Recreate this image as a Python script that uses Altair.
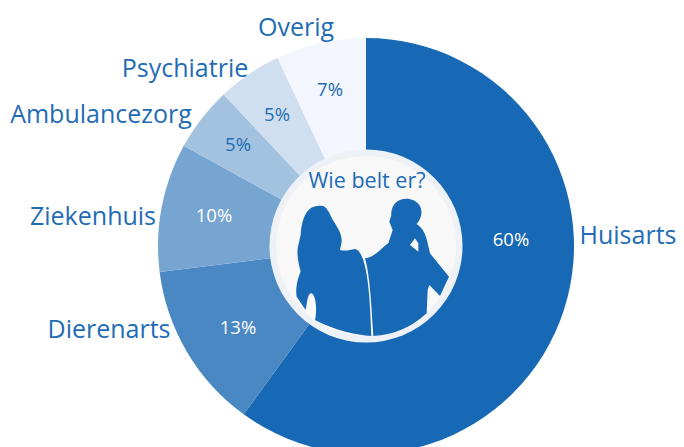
import altair as alt
import pandas as pd

categories = ["Huisarts", "Dierenarts", "Ziekenhuis", "Ambulancezorg", "Psychiatrie", "Overig"]
values = [60, 13, 10, 5, 5, 7]
percent_labels = ["60%", "13%", "10%", "5%", "5%", "7%"]

colors = ["#1869b5", "#4a88c4", "#76a5d1", "#a3c2df", "#d0dfef", "#f3f6fc"]
text_colors = ["#ffffff", "#ffffff", "#ffffff", "#1f6cb5", "#1f6cb5", "#1f6cb5"]
BLUE = "#1f6cb5"
FONT = "Open Sans"

# page position of the donut centre, minus the 8px page margin
CX, CY = 358, 238
OUTER, INNER = 208, 96

# label placement (layout, not data)
name_pos = {
    "Huisarts": (620, 228),
    "Dierenarts": (101, 322),
    "Ziekenhuis": (85, 209),
    "Ambulancezorg": (93, 107),
    "Psychiatrie": (177, 61),
    "Overig": (288, 20),
}
pct_pos = {
    "Huisarts": (503, 232),
    "Dierenarts": (230, 320),
    "Ziekenhuis": (206, 208),
    "Ambulancezorg": (230, 137),
    "Psychiatrie": (269, 107),
    "Overig": (322, 82),
}

rows = []
start = 0
for c, v, p, col, tc in zip(categories, values, percent_labels, colors, text_colors):
    rows.append({"cat": c, "value": v, "pct": p, "start": start, "end": start + v,
                 "col": col, "tc": tc})
    start += v
df = pd.DataFrame(rows)

theta_scale = alt.Scale(domain=[0, 100], range=[0, 6.283185307])
base = alt.Chart(df)

arcs = base.mark_arc(radius=OUTER, radius2=INNER - 2, clip=True).encode(
    x=alt.value(CX), y=alt.value(CY),
    theta=alt.Theta("start:Q", scale=theta_scale, stack=None),
    theta2="end:Q",
    fill=alt.Fill("col:N", scale=None),
    order=alt.Order("start:Q"),
)

disc = alt.Chart(pd.DataFrame({"r": [1]}))
ring = disc.mark_arc(radius=96.5, radius2=0, theta=0, theta2=6.2832, fill="#eef1f5").encode(
    x=alt.value(CX), y=alt.value(CY))
face = disc.mark_arc(radius=90, radius2=0, theta=0, theta2=6.2832, fill="#f8f8f9").encode(
    x=alt.value(CX), y=alt.value(CY))

woman = ("M122,255 C124,225 130,195 148,178 C158,168 175,165 190,168 C205,175 212,200 222,215 "
         "C232,232 246,250 245,275 L240,300 C255,304 270,300 285,297 C300,300 308,322 314,345 "
         "C324,385 330,440 334,558 C290,556 220,540 165,510 C170,490 170,450 160,435 C152,422 145,435 142,450 "
         "L137,480 L110,440 C106,420 112,385 122,365 C116,340 108,310 115,285 Z")
man = ("M340,558 C400,555 450,535 500,490 L503,420 L508,405 L540,438 L567,380 L510,310 L503,280 "
       "C498,255 490,235 470,222 C484,205 490,185 478,165 C465,147 440,142 420,150 C400,158 393,178 394,195 "
       "L388,215 L398,240 L385,280 C365,292 348,320 315,325 C328,370 333,440 340,558 Z "
       "M465,265 L475,280 L475,305 L450,285 Z")
silhouettes = disc.mark_point(
    shape=woman + " " + man, size=4 / 9, filled=True, fill="#1869b5", opacity=1, strokeWidth=0
).encode(x=alt.value(252), y=alt.value(142))

layers = [arcs, ring, face, silhouettes]
for name, tc in zip(categories, text_colors):
    px, py = pct_pos[name]
    layers.append(
        base.transform_filter(alt.datum.cat == name).mark_text(
            font=FONT, fontSize=18.5, color=tc, x=px, y=py).encode(text="pct:N")
    )
for name, (px, py) in name_pos.items():
    layers.append(
        base.transform_filter(alt.datum.cat == name).mark_text(
            font=FONT, fontSize=25, color=BLUE, x=px, y=py).encode(text="cat:N")
    )
layers.append(
    disc.mark_text(text="Wie belt er?", font=FONT, fontSize=21.5, color=BLUE, x=359, y=174).encode(
        opacity=alt.value(1))
)

chart = alt.layer(*layers).properties(
    width=668, height=439, padding=0,
    autosize=alt.AutoSizeParams(type="none"),
    background="#ffffff",
).configure_view(stroke=None)

chart.save("out.html", embed_options={"renderer": "svg", "actions": False})
